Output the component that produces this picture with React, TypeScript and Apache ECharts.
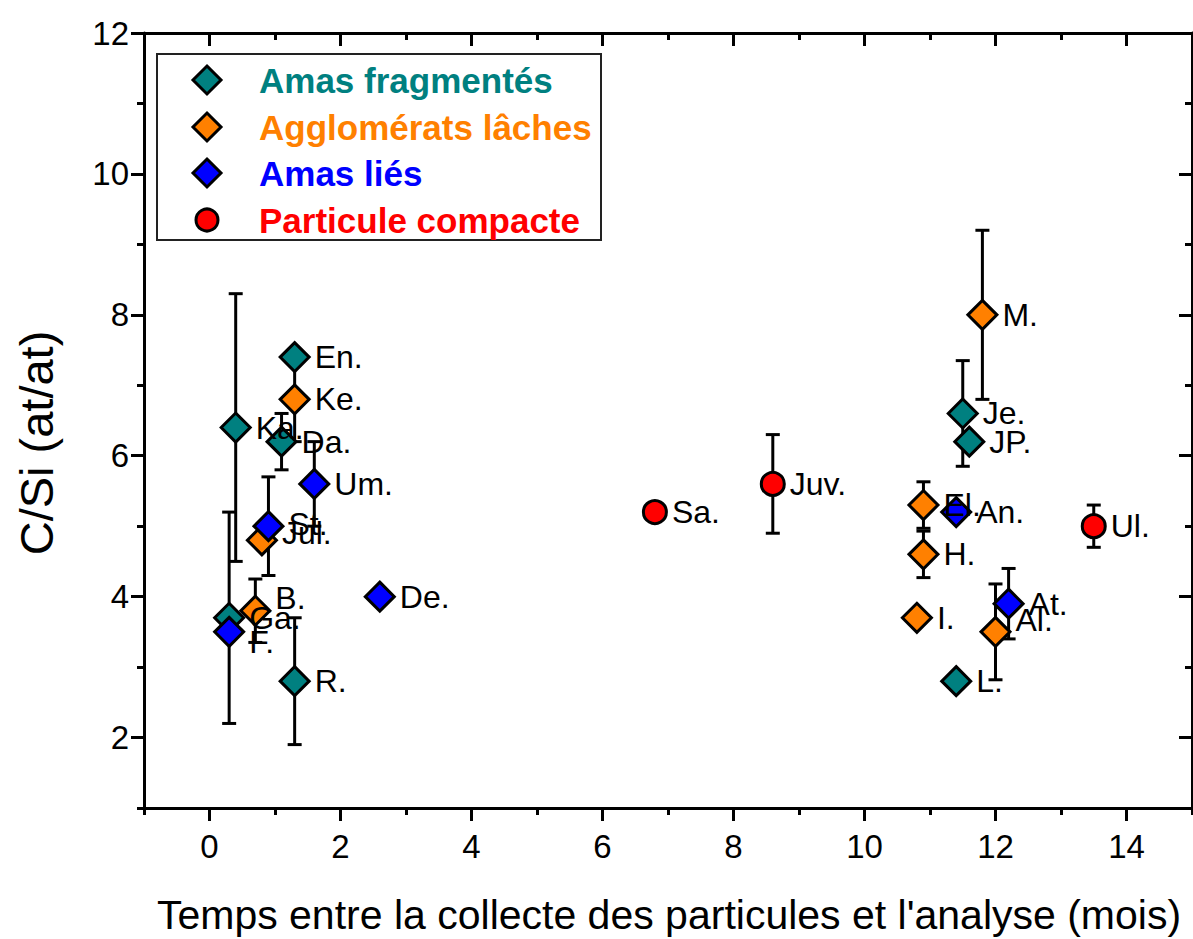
import React, { useEffect, useRef } from 'react';
import * as echarts from 'echarts';

// ---------- data ----------
const seriesNames = ['Amas fragmentés', 'Agglomérats lâches', 'Amas liés', 'Particule compacte'];
const seriesColors = ['#008080', '#FF8000', '#0000FF', '#FF0000'];

const fragLabels = ['Ka.', 'En.', 'Da.', 'Ga.', 'R.', 'Je.', 'JP.', 'L.'];
const fragX = [0.4, 1.3, 1.1, 0.3, 1.3, 11.5, 11.6, 11.4];
const fragY = [6.4, 7.4, 6.2, 3.7, 2.8, 6.6, 6.2, 2.8];
const fragErr = [1.9, 0, 0.4, 1.5, 0.9, 0.75, 0.1, 0];

const agglLabels = ['Ke.', 'Jul.', 'B.', 'M.', 'El.', 'H.', 'I.', 'Al.'];
const agglX = [1.3, 0.8, 0.7, 11.8, 10.9, 10.9, 10.8, 12.0];
const agglY = [6.8, 4.8, 3.8, 8.0, 5.3, 4.6, 3.7, 3.5];
const agglErr = [0.6, 0, 0.45, 1.2, 0.33, 0.33, 0, 0.68];

const lieLabels = ['Um.', 'St.', 'F.', 'De.', 'An.', 'At.'];
const lieX = [1.6, 0.9, 0.3, 2.6, 11.4, 12.2];
const lieY = [5.6, 5.0, 3.5, 4.0, 5.2, 3.9];
const lieErr = [0.6, 0.7, 0, 0, 0, 0.5];

const compLabels = ['Sa.', 'Juv.', 'Ul.'];
const compX = [6.8, 8.6, 13.5];
const compY = [5.2, 5.6, 5.0];
const compErr = [0, 0.7, 0.3];

const xMajorTicks = [0, 2, 4, 6, 8, 10, 12, 14];
const xMinorTicks = [-1, 0, 1, 2, 3, 4, 5, 6, 7, 8, 9, 10, 11, 12, 13, 14, 15];
const yMajorTicks = [2, 4, 6, 8, 10, 12];
const yMinorTicks = [1, 2, 3, 4, 5, 6, 7, 8, 9, 10, 11, 12];

const xTitle = "Temps entre la collecte des particules et l'analyse (mois)";
const yTitle = 'C/Si (at/at)';

// label nudges (style only) for crowded points
const labelNudge: Record<string, [number, number]> = {
  'B.': [0, -13],
  'F.': [0, 10],
  'Jul.': [0, -7],
  'Al.': [0, -12],
  'St.': [0, -2],
};

const FONT = '"Liberation Sans", Arial, sans-serif';

const groups = [
  { labels: fragLabels, xs: fragX, ys: fragY, errs: fragErr, symbol: 'diamond' },
  { labels: agglLabels, xs: agglX, ys: agglY, errs: agglErr, symbol: 'diamond' },
  { labels: lieLabels, xs: lieX, ys: lieY, errs: lieErr, symbol: 'diamond' },
  { labels: compLabels, xs: compX, ys: compY, errs: compErr, symbol: 'circle' },
];

function buildOption() {
  const series: any[] = [];
  groups.forEach((g, gi) => {
    const errData = g.xs
      .map((x, i) => [x, g.ys[i] - g.errs[i], g.ys[i] + g.errs[i], g.errs[i]])
      .filter((d) => d[3] > 0);
    series.push({
      type: 'custom',
      name: seriesNames[gi] + ' (erreur)',
      xAxisIndex: 0,
      yAxisIndex: 0,
      encode: { x: 0, y: [1, 2] },
      data: errData,
      silent: true,
      renderItem: (params: any, api: any) => {
        const x = api.value(0);
        const top = api.coord([x, api.value(2)]);
        const bot = api.coord([x, api.value(1)]);
        const hw = 7;
        const st = { stroke: '#000', lineWidth: 3 };
        return {
          type: 'group',
          children: [
            { type: 'line', shape: { x1: top[0], y1: top[1], x2: bot[0], y2: bot[1] }, style: st },
            { type: 'line', shape: { x1: top[0] - hw, y1: top[1], x2: top[0] + hw, y2: top[1] }, style: st },
            { type: 'line', shape: { x1: bot[0] - hw, y1: bot[1], x2: bot[0] + hw, y2: bot[1] }, style: st },
          ],
        };
      },
    });
    series.push({
      type: 'scatter',
      name: seriesNames[gi],
      xAxisIndex: 0,
      yAxisIndex: 0,
      symbol: g.symbol,
      symbolSize: g.symbol === 'circle' ? 23 : 29,
      itemStyle: { color: seriesColors[gi], borderColor: '#000', borderWidth: 3, opacity: 1 },
      label: {
        show: true,
        position: 'right',
        distance: 4,
        formatter: '{b}',
        color: '#000',
        fontSize: 32,
        fontFamily: FONT,
      },
      data: g.xs.map((x, i) => {
        const nudge = labelNudge[g.labels[i]];
        const item: any = { name: g.labels[i], value: [x, g.ys[i]] };
        if (nudge) item.label = { offset: nudge };
        return item;
      }),
    });
  });

  const axisLineStyle = { color: '#000', width: 3 };
  const tickStyle = { color: '#000', width: 3 };

  const xBase = { type: 'value', min: -1, max: 15, gridIndex: 0, offset: 0, splitLine: { show: false } };
  const yBase = { type: 'value', min: 1, max: 12, gridIndex: 0, offset: 0, splitLine: { show: false } };

  const xAxis = [
    {
      ...xBase,
      position: 'bottom',
      interval: 1,
      axisLine: { show: true, onZero: false, lineStyle: axisLineStyle },
      axisTick: { show: true, inside: false, length: 13, lineStyle: tickStyle, customValues: xMajorTicks },
      axisLabel: { show: true, customValues: xMajorTicks, fontSize: 33, color: '#000', margin: 22, fontFamily: FONT },
    },
    {
      ...xBase,
      position: 'bottom',
      interval: 1,
      axisLine: { show: false, onZero: false },
      axisTick: { show: true, inside: false, length: 7, lineStyle: tickStyle, customValues: xMinorTicks },
      axisLabel: { show: false },
    },
    {
      ...xBase,
      position: 'top',
      interval: 1,
      axisLine: { show: true, onZero: false, lineStyle: axisLineStyle },
      axisTick: { show: true, inside: true, length: 13, lineStyle: tickStyle, customValues: xMajorTicks },
      axisLabel: { show: false },
    },
    {
      ...xBase,
      position: 'top',
      interval: 1,
      axisLine: { show: false, onZero: false },
      axisTick: { show: true, inside: true, length: 7, lineStyle: tickStyle, customValues: xMinorTicks },
      axisLabel: { show: false },
    },
  ];

  const yAxis = [
    {
      ...yBase,
      position: 'left',
      interval: 1,
      axisLine: { show: true, onZero: false, lineStyle: axisLineStyle },
      axisTick: { show: true, inside: false, length: 13, lineStyle: tickStyle, customValues: yMajorTicks },
      axisLabel: { show: true, customValues: yMajorTicks, fontSize: 33, color: '#000', margin: 15, fontFamily: FONT },
    },
    {
      ...yBase,
      position: 'left',
      interval: 1,
      axisLine: { show: false, onZero: false },
      axisTick: { show: true, inside: false, length: 7, lineStyle: tickStyle, customValues: yMinorTicks },
      axisLabel: { show: false },
    },
    {
      ...yBase,
      position: 'right',
      interval: 1,
      axisLine: { show: true, onZero: false, lineStyle: axisLineStyle },
      axisTick: { show: true, inside: true, length: 13, lineStyle: tickStyle, customValues: yMajorTicks },
      axisLabel: { show: false },
    },
    {
      ...yBase,
      position: 'right',
      interval: 1,
      axisLine: { show: false, onZero: false },
      axisTick: { show: true, inside: true, length: 7, lineStyle: tickStyle, customValues: yMinorTicks },
      axisLabel: { show: false },
    },
  ];

  // legend drawn as graphic
  const legendRows = [80, 127, 173, 220];
  const legendChildren: any[] = [
    {
      type: 'rect',
      shape: { x: 157, y: 54, width: 444, height: 186 },
      style: { fill: '#fff', stroke: '#222', lineWidth: 2 },
    },
  ];
  seriesNames.forEach((name, i) => {
    const cy = legendRows[i];
    if (groups[i].symbol === 'circle') {
      legendChildren.push({
        type: 'circle',
        shape: { cx: 207, cy, r: 11 },
        style: { fill: seriesColors[i], stroke: '#000', lineWidth: 3 },
      });
    } else {
      legendChildren.push({
        type: 'polygon',
        shape: { points: [[207, cy - 14], [221, cy], [207, cy + 14], [193, cy]] },
        style: { fill: seriesColors[i], stroke: '#000', lineWidth: 3 },
      });
    }
    legendChildren.push({
      type: 'text',
      x: 259,
      y: cy,
      style: {
        text: name,
        fill: seriesColors[i],
        font: `bold 35px ${FONT}`,
        verticalAlign: 'middle',
        align: 'left',
      },
    });
  });

  return {
    animation: false,
    backgroundColor: '#fff',
    grid: { left: 144, right: 1, top: 33, bottom: 131, containLabel: false, outerBoundsMode: 'none' },
    xAxis,
    yAxis,
    series,
    graphic: [
      { type: 'group', z: 100, children: legendChildren },
      {
        type: 'text',
        x: 669,
        y: 915,
        style: { text: xTitle, fill: '#000', font: `41px ${FONT}`, align: 'center', verticalAlign: 'middle' },
      },
      {
        type: 'text',
        x: 36,
        y: 443,
        rotation: Math.PI / 2,
        style: { text: yTitle, fill: '#000', font: `47px ${FONT}`, align: 'center', verticalAlign: 'middle' },
      },
    ],
  };
}

export default function App() {
  const ref = useRef<HTMLDivElement>(null);
  useEffect(() => {
    if (!ref.current) return;
    const chart = echarts.init(ref.current, undefined, { renderer: 'svg' });
    chart.setOption(buildOption() as any);
    return () => chart.dispose();
  }, []);
  return (
    <div
      ref={ref}
      style={{ position: 'fixed', left: 0, top: 0, width: 1193, height: 939, background: '#fff' }}
    />
  );
}
